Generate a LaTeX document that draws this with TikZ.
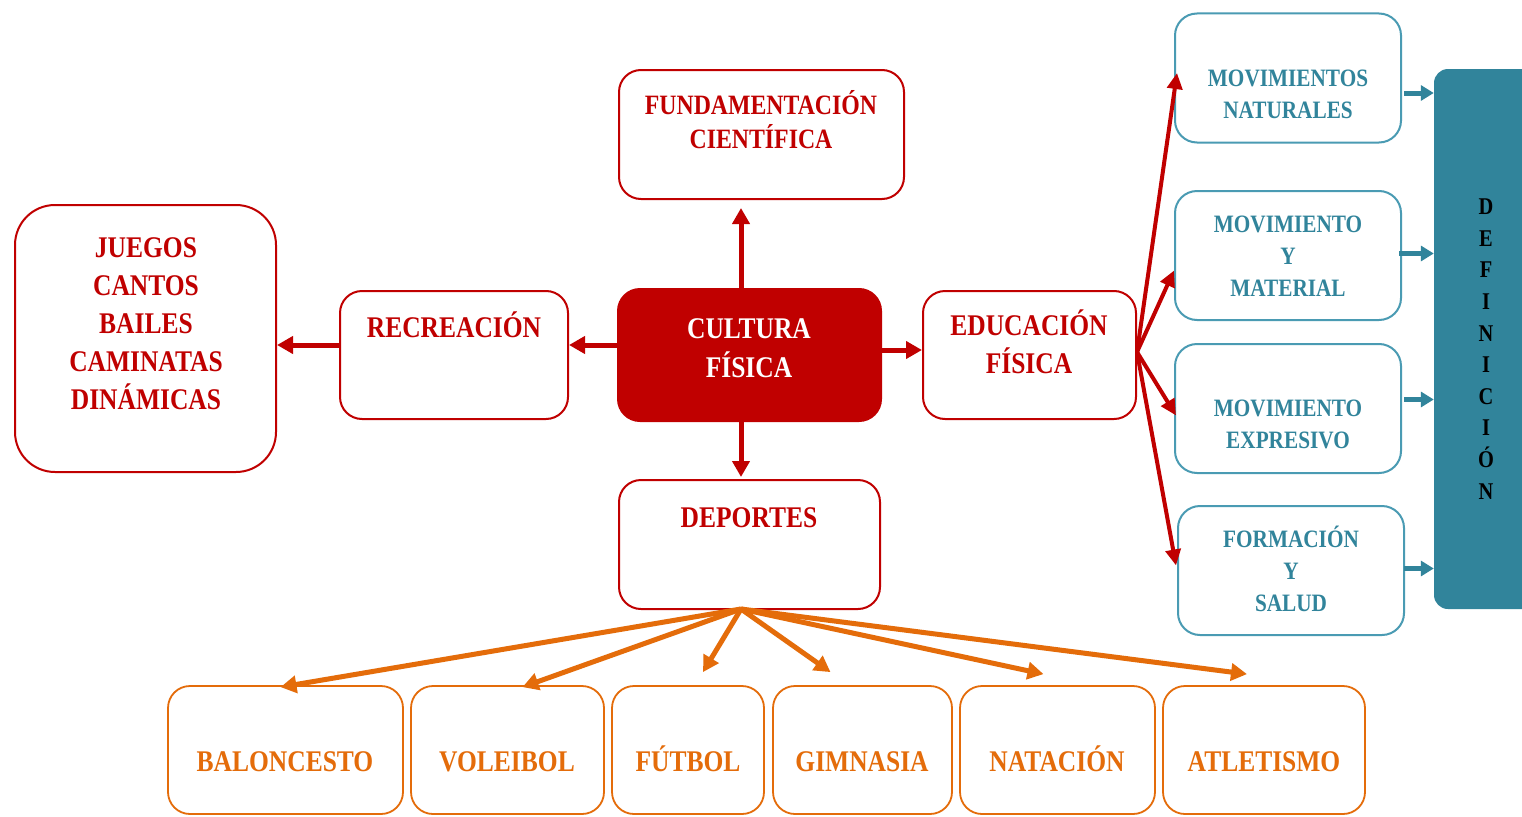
\documentclass[tikz,border=0pt]{standalone}
\usepackage{fontspec}
\setmainfont{Liberation Serif}[FakeStretch=0.85]
\usetikzlibrary{arrows.meta,calc}
\definecolor{rd}{HTML}{C00000}
\definecolor{og}{HTML}{E46C0A}
\definecolor{bl}{HTML}{31849B}
\definecolor{blb}{HTML}{4A9BB3}
\begin{document}
\begin{tikzpicture}[x=1pt,y=-1pt,
  box/.style={draw, rounded corners=22pt, line width=2pt, fill=white, inner sep=0pt},
  redbox/.style={box, draw=rd},
  orbox/.style={box, draw=og, line width=1.8pt, minimum height=128pt},
  blbox/.style={box, draw=blb, minimum width=226pt, minimum height=129pt},
  rtxt/.style={text=rd, font=\fontsize{30}{38}\selectfont\bfseries, align=center, inner sep=0pt},
  otxt/.style={text=og, font=\fontsize{30}{36}\selectfont\bfseries, align=center, inner sep=0pt},
  btxt/.style={text=bl, font=\fontsize{25}{32}\selectfont\bfseries, align=center, inner sep=0pt},
  rarr/.style={draw=rd, line width=5pt, -{Triangle[length=16pt,width=17pt]}},
  farr/.style={draw=rd, line width=4pt, -{Triangle[length=16pt,width=15pt]}},
  oarr/.style={draw=og, line width=5pt, -{Triangle[length=16pt,width=17pt]}},
  barr/.style={draw=bl, line width=5pt, -{Triangle[length=13pt,width=15pt]}}]
\useasboundingbox (0,0) rectangle (1522,816);
\fill[white] (0,0) rectangle (1522,816);

% red boxes
\node[redbox, minimum width=285pt, minimum height=129pt] (fund) at (761.5,134.5) {};
\node[redbox, rounded corners=40pt, minimum width=261pt, minimum height=267pt] (jue) at (145.5,338.5) {};
\node[redbox, minimum width=228pt, minimum height=128pt] (rec) at (454,355) {};
\node[redbox, fill=rd, minimum width=263pt, minimum height=132pt] (cult) at (749.5,355) {};
\node[redbox, minimum width=213pt, minimum height=128pt] (edu) at (1029.5,355) {};
\node[redbox, minimum width=261pt, minimum height=129pt] (dep) at (749.5,544.5) {};

% blue boxes
\node[blbox] (mn) at (1288,78) {};
\node[blbox] (mym) at (1288,255.5) {};
\node[blbox] (mex) at (1288,408.5) {};
\node[blbox] (fys) at (1291,570.5) {};
\node[draw=none, fill=bl, rounded corners=14pt, minimum width=120pt, minimum height=540pt, inner sep=0pt] (def) at (1494,339) {};

% orange boxes
\node[orbox, minimum width=235pt] (bal) at (285.5,750) {};
\node[orbox, minimum width=193pt] (vol) at (507.5,750) {};
\node[orbox, minimum width=152pt] (fut) at (688,750) {};
\node[orbox, minimum width=179pt] (gim) at (862.5,750) {};
\node[orbox, minimum width=195pt] (nat) at (1057.5,750) {};
\node[orbox, minimum width=202pt] (atl) at (1264,750) {};

% texts
\node[rtxt, font=\fontsize{28}{34}\selectfont\bfseries] (tfund) at (761,119.5) {FUNDAMENTACIÓN\\CIENTÍFICA};
\node[rtxt] (tjue) at (146,324) {JUEGOS\\CANTOS\\BAILES\\CAMINATAS\\DINÁMICAS};
\node[rtxt] (trec) at (454,325) {RECREACIÓN};
\node[rtxt, text=white, font=\fontsize{30}{39}\selectfont\bfseries] (tcult) at (749,348.5) {CULTURA\\FÍSICA};
\node[rtxt] (tedu) at (1029,342) {EDUCACIÓN\\FÍSICA};
\node[rtxt] (tdep) at (749,518) {DEPORTES};

\node[btxt] (tmn) at (1288,94.5) {MOVIMIENTOS\\NATURALES};
\node[btxt] (tmym) at (1288,256.5) {MOVIMIENTO\\Y\\MATERIAL};
\node[btxt] (tmex) at (1288,424.5) {MOVIMIENTO\\EXPRESIVO};
\node[btxt] (tfys) at (1291,568.5) {FORMACIÓN\\Y\\SALUD};
\node[text=black, font=\fontsize{24}{31.6}\selectfont\bfseries, align=center, inner sep=0pt] (tdef) at (1486,349) {D\\E\\F\\I\\N\\I\\C\\I\\Ó\\N};

\node[otxt] (tbal) at (285,762) {BALONCESTO};
\node[otxt] (tvol) at (507,762) {VOLEIBOL};
\node[otxt] (tfut) at (688,758.5) {FÚTBOL};
\node[otxt] (tgim) at (862,762) {GIMNASIA};
\node[otxt] (tnat) at (1057,758.5) {NATACIÓN};
\node[otxt] (tatl) at (1264,762) {ATLETISMO};

% helper coordinates
\coordinate (vx) at (741,0);
\coordinate (hl) at (0,345);
\coordinate (hr) at (0,350);
\coordinate (hub) at (741,609);

% red arrows
\draw[rarr, shorten >=8pt] (cult.north -| vx) -- (fund.south -| vx);
\draw[rarr] (cult.south -| vx) -- ($(dep.north -| vx)+(0,-2)$);
\draw[rarr] (cult.west |- hl) -- (rec.east |- hl);
\draw[rarr] (rec.west |- hl) -- (jue.east |- hl);
\draw[rarr] (cult.east |- hr) -- (edu.west |- hr);

% fan from educacion
\coordinate (ef) at ($(edu.east)+(0,-3)$);
\draw[farr] (ef) -- ($(mn.west)+(3,-5)$);
\draw[farr] (ef) -- ($(mym.west)+(0,15)$);
\draw[farr] (ef) -- ($(mex.west)+(2,7)$);
\draw[farr] (ef) -- ($(fys.west)+(-1,-5)$);

% blue arrows
\coordinate (b1) at ($(mn.east)+(2,15)$);
\coordinate (b2) at ($(mym.east)+(-3,-2)$);
\coordinate (b3) at ($(mex.east)+(2,-9)$);
\coordinate (b4) at ($(fys.east)+(-1,-2)$);
\draw[barr] (b1) -- (b1 -| def.west);
\draw[barr] (b2) -- (b2 -| def.west);
\draw[barr] (b3) -- (b3 -| def.west);
\draw[barr] (b4) -- (b4 -| def.west);

% orange arrows
\draw[oarr] (hub) -- ($(bal.north)+(-5,2)$);
\draw[oarr] (hub) -- ($(vol.north)+(15,2)$);
\draw[oarr] (hub) -- ($(fut.north)+(15,-13)$);
\draw[oarr] (hub) -- ($(gim.north)+(-32,-13)$);
\draw[oarr] (hub) -- ($(nat.north)+(-14,-11)$);
\draw[oarr] (hub) -- ($(atl.north)+(-17,-11)$);
\end{tikzpicture}
\end{document}
